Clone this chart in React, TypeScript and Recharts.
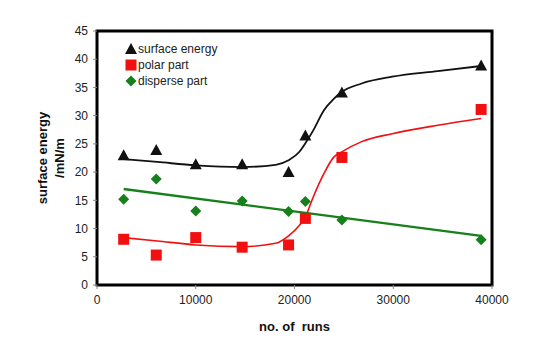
import React from "react";
import {
  ComposedChart,
  Scatter,
  Line,
  XAxis,
  YAxis,
  ReferenceArea,
  Label,
} from "recharts";

// measured points
const runs = [2700, 6000, 10000, 14700, 19400, 21100, 24800, 38900];
const surfaceEnergy = [23.0, 23.9, 21.4, 21.4, 20.0, 26.5, 34.1, 38.9];
const polarPart = [8.1, 5.3, 8.4, 6.7, 7.1, 11.8, 22.6, 31.1];
const dispersePart = [15.2, 18.8, 13.1, 14.9, 13.0, 14.8, 11.5, 8.0];

// fitted curves
const fitRuns = [2700, 6100, 10000, 14700, 18100, 19400, 20500, 21100, 21900, 23000, 24000, 24700, 26800, 29900, 34500, 38900];
const surfaceFit = [22.3, 21.8, 21.2, 20.9, 21.3, 22.1, 23.6, 25.1, 27.4, 31.0, 33.0, 34.1, 35.7, 36.9, 37.9, 38.8];
const polarFit = [8.4, 7.8, 7.1, 6.8, 7.4, 8.7, 10.6, 12.1, 15.6, 19.8, 22.7, 23.5, 25.4, 26.8, 28.3, 29.5];
const disperseFitRuns = [2700, 38900];
const disperseFit = [17.0, 8.7];

const xTicks = [0, 10000, 20000, 30000, 40000];
const yTicks = [0, 5, 10, 15, 20, 25, 30, 35, 40, 45];

const BLACK = "#111111";
const RED = "#f01010";
const GREEN = "#16801a";

const toPoints = (xs: number[], ys: number[]) => xs.map((x, i) => ({ x, y: ys[i] }));

const Triangle = (props: any) => {
  const { cx, cy } = props;
  return <polygon points={`${cx},${cy - 6} ${cx - 6},${cy + 5} ${cx + 6},${cy + 5}`} fill={BLACK} />;
};

const Square = (props: any) => {
  const { cx, cy } = props;
  return <rect x={cx - 5.5} y={cy - 5.5} width={11} height={11} fill={RED} />;
};

const Diamond = (props: any) => {
  const { cx, cy } = props;
  return <polygon points={`${cx},${cy - 5.5} ${cx + 5.5},${cy} ${cx},${cy + 5.5} ${cx - 5.5},${cy}`} fill={GREEN} />;
};

const font = "'Liberation Sans', Arial, sans-serif";

const legendItems = [
  { name: "surface energy", Shape: Triangle },
  { name: "polar part", Shape: Square },
  { name: "disperse part", Shape: Diamond },
];

const YTitle = (props: any) => {
  const cy = 158;
  return (
    <g fontFamily={font} fontSize={13} fontWeight="bold" fill="#111">
      <text x={42} y={cy} transform={`rotate(-90 42 ${cy})`} textAnchor="middle" dominantBaseline="central">
        surface energy
      </text>
      <text x={59} y={cy} transform={`rotate(-90 59 ${cy})`} textAnchor="middle" dominantBaseline="central">
        /mN/m
      </text>
    </g>
  );
};

export default function App() {
  return (
    <div style={{ position: "absolute", left: 0, top: 0, width: 541, height: 339, background: "#fff" }}>
      <ComposedChart width={541} height={339} margin={{ top: 31, right: 49, bottom: 0, left: 0 }}>
        <XAxis
          type="number"
          dataKey="x"
          domain={[0, 40000]}
          ticks={xTicks}
          allowDataOverflow
          axisLine={false}
          tickLine={{ stroke: "#888" }}
          tickSize={4}
          height={54}
          tick={{ fontSize: 12, fill: "#222", fontFamily: font, dy: 4 }}
        >
          <Label
            value={"no. of\u00a0\u00a0runs"}
            position="insideBottom"
            offset={8}
            style={{ fontSize: 13, fontWeight: "bold", fill: "#111", fontFamily: font }}
          />
        </XAxis>
        <YAxis
          type="number"
          dataKey="y"
          domain={[0, 45]}
          ticks={yTicks}
          allowDataOverflow
          axisLine={false}
          tickLine={{ stroke: "#888" }}
          tickSize={4}
          width={97}
          tick={{ fontSize: 12, fill: "#222", fontFamily: font, dx: -3 }}
        >
          <Label content={<YTitle />} />
        </YAxis>
        <ReferenceArea x1={0} x2={40000} y1={0} y2={45} fill="none" stroke="#000" strokeWidth={3} strokeOpacity={1} ifOverflow="visible" />
        <Line
          data={toPoints(fitRuns, surfaceFit)}
          dataKey="y"
          type="monotone"
          stroke={BLACK}
          strokeWidth={1.8}
          dot={false}
          activeDot={false}
          isAnimationActive={false}
        />
        <Line
          data={toPoints(fitRuns, polarFit)}
          dataKey="y"
          type="monotone"
          stroke={RED}
          strokeWidth={1.6}
          dot={false}
          activeDot={false}
          isAnimationActive={false}
        />
        <Line
          data={toPoints(disperseFitRuns, disperseFit)}
          dataKey="y"
          type="linear"
          stroke={GREEN}
          strokeWidth={2.4}
          dot={false}
          activeDot={false}
          isAnimationActive={false}
        />
        <Scatter data={toPoints(runs, surfaceEnergy)} dataKey="y" shape={<Triangle />} isAnimationActive={false} />
        <Scatter data={toPoints(runs, dispersePart)} dataKey="y" shape={<Diamond />} isAnimationActive={false} />
        <Scatter data={toPoints(runs, polarPart)} dataKey="y" shape={<Square />} isAnimationActive={false} />
      </ComposedChart>
      <svg width={200} height={60} style={{ position: "absolute", left: 120, top: 40 }}>
        {legendItems.map((item, i) => {
          const y = 9 + i * 16;
          const S = item.Shape;
          return (
            <g key={item.name}>
              <S cx={11} cy={y} />
              <text x={18} y={y} dominantBaseline="central" fontSize={12} fontFamily={font} fill="#222">
                {item.name}
              </text>
            </g>
          );
        })}
      </svg>
    </div>
  );
}
